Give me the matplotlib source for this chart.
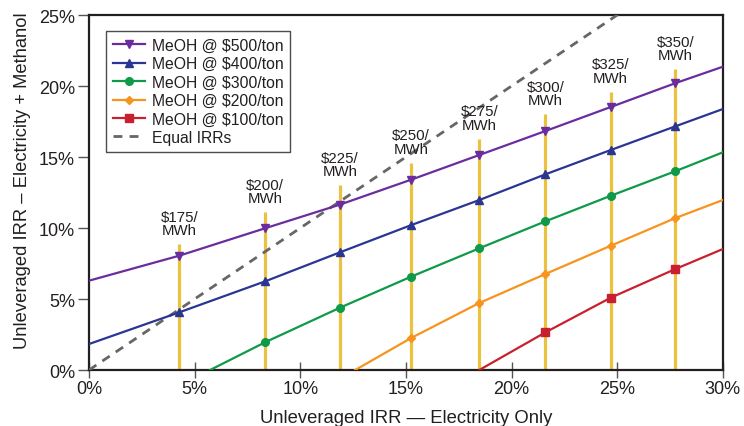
import matplotlib
matplotlib.use("Agg")
import matplotlib.pyplot as plt

plt.rcParams['font.family'] = ['Liberation Sans', 'DejaVu Sans']

# Vertical electricity price lines
price_x = [4.27, 8.33, 11.88, 15.24, 18.47, 21.6, 24.69, 27.75]
price_top = [8.87, 11.1, 13.0, 14.6, 16.3, 18.0, 19.6, 21.2]
price_labels = ['$175/\nMWh', '$200/\nMWh', '$225/\nMWh', '$250/\nMWh',
                '$275/\nMWh', '$300/\nMWh', '$325/\nMWh', '$350/\nMWh']

# Series (x = electricity-only IRR %, y = electricity + methanol IRR %)
meoh500_x = [0, 4.27, 8.33, 11.88, 15.24, 18.47, 21.6, 24.69, 27.75, 30]
meoh500_y = [6.29, 8.05, 9.98, 11.65, 13.4, 15.14, 16.83, 18.52, 20.2, 21.36]
meoh400_x = [0, 4.27, 8.33, 11.88, 15.24, 18.47, 21.6, 24.69, 27.75, 30]
meoh400_y = [1.83, 4.06, 6.24, 8.29, 10.2, 11.97, 13.78, 15.49, 17.16, 18.38]
meoh300_x = [5.73, 8.33, 11.88, 15.24, 18.47, 21.6, 24.69, 27.75, 30]
meoh300_y = [0, 1.95, 4.39, 6.57, 8.57, 10.47, 12.27, 14.0, 15.33]
meoh200_x = [12.6, 15.24, 18.47, 21.6, 24.69, 27.75, 30]
meoh200_y = [0, 2.25, 4.72, 6.76, 8.75, 10.7, 11.97]
meoh100_x = [18.47, 21.6, 24.69, 27.75, 30]
meoh100_y = [0, 2.65, 5.09, 7.11, 8.52]

equal_x = [0, 30]
equal_y = [0, 30]

series = [
    ('MeOH @ $500/ton', meoh500_x, meoh500_y, '#6B2D9E', 'v'),
    ('MeOH @ $400/ton', meoh400_x, meoh400_y, '#2B3593', '^'),
    ('MeOH @ $300/ton', meoh300_x, meoh300_y, '#0E9A48', 'o'),
    ('MeOH @ $200/ton', meoh200_x, meoh200_y, '#F7941D', 'D'),
    ('MeOH @ $100/ton', meoh100_x, meoh100_y, '#C8202F', 's'),
]

fig = plt.figure(figsize=(7.44, 4.27), dpi=100)
ax = fig.add_axes([0.1196, 0.1311, 0.852, 0.8314])

# yellow price lines
for x, top, lab in zip(price_x, price_top, price_labels):
    ax.plot([x, x], [0, top], color='#EBC23F', lw=2.3, zorder=2, solid_capstyle='butt')
    ax.annotate(lab, xy=(x, top), xytext=(0, 5), textcoords='offset points',
                ha='center', va='bottom', fontsize=10.8, color='#231F20',
                linespacing=0.95, zorder=5)

for name, xs, ys, col, mk in series:
    ms = 5.5 if mk != 'D' else 4.5
    ax.plot(xs, ys, color=col, lw=1.6, marker=mk, markersize=ms,
            markevery=list(range(1, len(xs) - 1)), label=name, zorder=4)

ax.plot(equal_x, equal_y, color='#666666', lw=2.0, dashes=(3.2, 2.6),
        label='Equal IRRs', zorder=3)

ax.set_xlim(0, 30)
ax.set_ylim(0, 25)
ax.set_xticks([0, 5, 10, 15, 20, 25, 30])
ax.set_xticklabels(['0%', '5%', '10%', '15%', '20%', '25%', '30%'])
ax.set_yticks([0, 5, 10, 15, 20, 25])
ax.set_yticklabels(['0%', '5%', '10%', '15%', '20%', '25%'])
ax.tick_params(axis='x', direction='inout', length=11, width=1, color='#555555',
               labelsize=13, labelcolor='#231F20', pad=2)
ax.tick_params(axis='y', direction='out', length=8, width=1, color='#555555',
               labelsize=13, labelcolor='#231F20', pad=2)
for s in ax.spines.values():
    s.set_color('#231F20')
    s.set_linewidth(1.6)

ax.set_xlabel('Unleveraged IRR — Electricity Only', fontsize=13.3, color='#231F20', labelpad=8)
ax.set_ylabel('Unleveraged IRR – Electricity + Methanol', fontsize=13.2, color='#231F20')
ax.yaxis.set_label_coords(-0.091, 0.537)

leg = ax.legend(loc='upper left', bbox_to_anchor=(0.027, 0.956), borderaxespad=0,
                fontsize=11.3, frameon=True, fancybox=False, handlelength=2.0,
                labelspacing=0.22, handletextpad=0.45, borderpad=0.45)
leg.get_frame().set_edgecolor('#231F20')
leg.get_frame().set_linewidth(1.0)
for t in leg.get_texts():
    t.set_color('#231F20')

fig.savefig('out.png', dpi=100)
